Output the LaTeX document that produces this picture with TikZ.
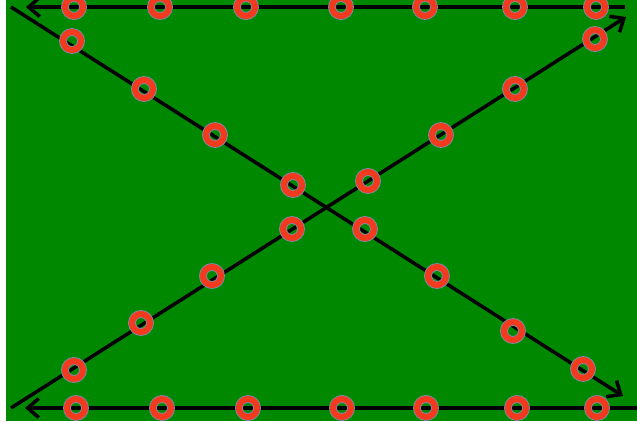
\documentclass[tikz,border=0pt]{standalone}
\usetikzlibrary{arrows.meta}
\definecolor{field}{RGB}{0,136,0}
\definecolor{ringred}{RGB}{242,58,30}
\definecolor{ringedge}{RGB}{125,140,170}
\tikzset{
  track/.style={line width=3.5pt, black, -{Straight Barb[length=11pt,width=19pt,line width=3.5pt]}},
  ring/.style={circle, inner sep=0pt, minimum size=18pt, draw=ringedge, line width=0.9pt,
               double=ringred, double distance=6pt},
}
\begin{document}
\begin{tikzpicture}[x=1pt,y=-1pt]
  \useasboundingbox (0,0) rectangle (637,421);
  \fill[field] (6,0) rectangle (637,421);

  % end points of the four tracks
  \coordinate (topR) at (625,7);
  \coordinate (topL) at (26,7);
  \coordinate (botR) at (637,408);
  \coordinate (botL) at (25,408);
  \coordinate (dAs) at (11,7);
  \coordinate (dAe) at (623,396);
  \coordinate (dBs) at (11,408);
  \coordinate (dBe) at (626,17);

  \draw[track] (topR) -- (topL);
  \draw[track] (botR) -- (botL);
  \draw[track] (dAs) -- (dAe);
  \draw[track] (dBs) -- (dBe);

  % rings along the top track
  \foreach \x [count=\i] in {74,160,246,341,425,515,596}
    \node[ring] (t\i) at (\x,7) {};
  % rings along the bottom track
  \foreach \x [count=\i] in {76,162,248,342,426,517,597}
    \node[ring] (b\i) at (\x,408) {};
  % rings along the falling diagonal
  \foreach \x/\y [count=\i] in {72/41,144/89,215/135,293/185,365/229,437/276,513/331,583/369}
    \node[ring] (a\i) at (\x,\y) {};
  % rings along the rising diagonal
  \foreach \x/\y [count=\i] in {74/370,141/323,212/276,292/229,368/181,441/135,515/89,595/39}
    \node[ring] (r\i) at (\x,\y) {};
\end{tikzpicture}
\end{document}
